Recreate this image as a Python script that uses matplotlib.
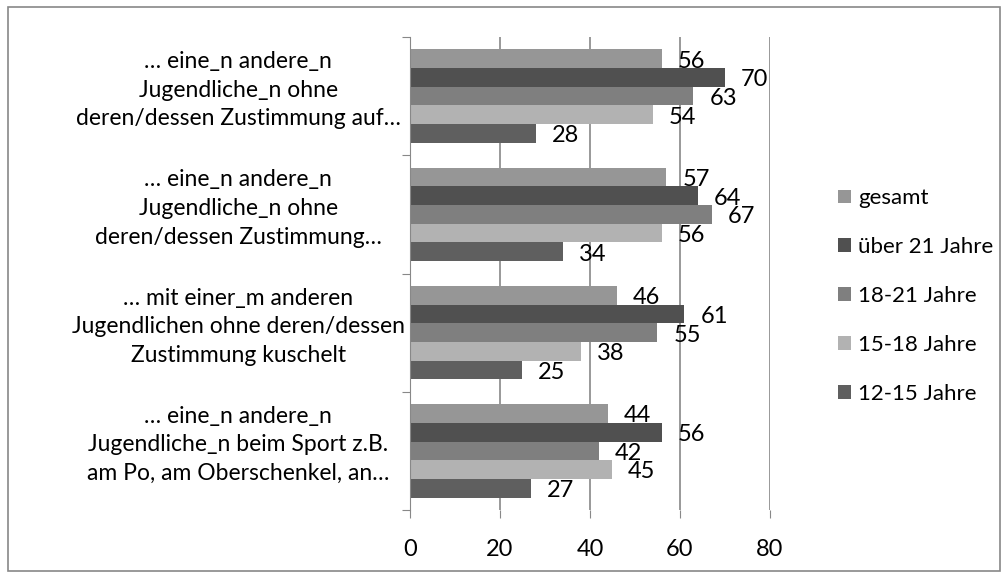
import matplotlib
matplotlib.use("Agg")
import matplotlib.pyplot as plt
import matplotlib.transforms as mtransforms
from matplotlib.patches import Rectangle
import numpy as np

plt.rcParams['font.family'] = ['Lato', 'DejaVu Sans']

categories = [
    "… eine_n andere_n\nJugendliche_n beim Sport z.B.\nam Po, am Oberschenkel, an…",
    "… mit einer_m anderen\nJugendlichen ohne deren/dessen\nZustimmung kuschelt",
    "… eine_n andere_n\nJugendliche_n ohne\nderen/dessen Zustimmung…",
    "… eine_n andere_n\nJugendliche_n ohne\nderen/dessen Zustimmung auf…",
]
series_names = ["12-15 Jahre", "15-18 Jahre", "18-21 Jahre", "über 21 Jahre", "gesamt"]
age_12_15 = [27, 25, 34, 28]
age_15_18 = [45, 38, 56, 54]
age_18_21 = [42, 55, 67, 63]
over_21 = [56, 61, 64, 70]
total = [44, 46, 57, 56]
series_values = [age_12_15, age_15_18, age_18_21, over_21, total]
colors = ["#5f5f5f", "#b2b2b2", "#7f7f7f", "#505050", "#969696"]

fig = plt.figure(figsize=(10.08, 5.78), dpi=100)
fig.patches.append(Rectangle((0.008, 0.012), 0.984, 0.976, transform=fig.transFigure,
                             fill=False, edgecolor="#888888", linewidth=1.2))
ax = fig.add_axes([0.4067, 0.1176, 0.3572, 0.8184])

y = np.arange(len(categories))
bar_h = 0.158
handles = []
for i, (name, vals, col) in enumerate(zip(series_names, series_values, colors)):
    pos = y + (i - 2) * bar_h
    b = ax.barh(pos, vals, height=bar_h, color=col, label=name)
    handles.append(b)
    for p, v in zip(pos, vals):
        ax.text(v + 3.5, p - 0.02, str(v), va="center", ha="left", fontsize=17, color="#000000")

ax.set_xlim(0, 80)
ax.set_ylim(-0.5, len(categories) - 0.5)
ax.set_xticks([0, 20, 40, 60, 80])
ax.tick_params(axis="x", labelsize=17, length=6, color="#888888", pad=15)
ax.set_yticks(np.arange(-0.5, len(categories), 1.0))
ax.set_yticklabels([])
ax.tick_params(axis="y", length=6, color="#888888")
ax.grid(axis="x", color="#888888", linewidth=1.2)
ax.set_axisbelow(True)
for s in ["top", "right", "bottom"]:
    ax.spines[s].set_visible(False)
ax.spines["left"].set_color("#888888")

trans = mtransforms.blended_transform_factory(ax.transAxes, ax.transData)
for yi, lab in zip(y, categories):
    ax.text(-0.477, yi + 0.05, lab, transform=trans, ha="center", va="center",
            fontsize=16.5, linespacing=1.45)

fig.legend(handles[::-1], series_names[::-1], loc="center left",
           bbox_to_anchor=(0.812, 0.488), frameon=False, fontsize=16,
           handlelength=0.55, handleheight=0.55, handletextpad=0.35, labelspacing=1.3)

fig.savefig("out.png", dpi=100)
